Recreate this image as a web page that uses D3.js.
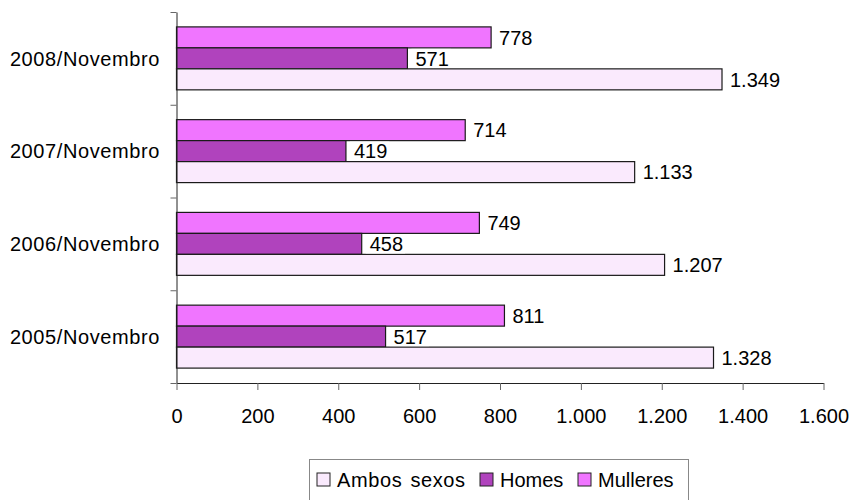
<!DOCTYPE html>
<html>
<head>
<meta charset="utf-8">
<script src="https://cdn.jsdelivr.net/npm/d3@7"></script>
<style>
  body { margin: 0; background: #fff; }
  text { font-family: "Liberation Sans", Arial, sans-serif; fill: #000; }
</style>
</head>
<body>
<div id="chart"></div>
<script>
var categories = ["2005/Novembro", "2006/Novembro", "2007/Novembro", "2008/Novembro"];
var seriesNames = ["Ambos sexos", "Homes", "Mulleres"];
var ambos = [1328, 1207, 1133, 1349];
var homes = [517, 458, 419, 571];
var mulleres = [811, 749, 714, 778];
var xTicks = [0, 200, 400, 600, 800, 1000, 1200, 1400, 1600];

var colors = {"Ambos sexos": "#faeafd", "Homes": "#b043bd", "Mulleres": "#f075ff"};

var width = 854, height = 500;
var plot = {left: 176.5, right: 823.5, top: 12, bottom: 383};

var locale = d3.formatLocale({decimal: ",", thousands: ".", grouping: [3], currency: ["", "€"]});
var fmt = locale.format(",d");

var svg = d3.select("#chart").append("svg")
    .attr("width", width)
    .attr("height", height);

var x = d3.scaleLinear().domain([0, 1600]).range([plot.left, plot.right]);

// 2008 on top
var y = d3.scaleBand()
    .domain(categories.slice().reverse())
    .range([plot.top, plot.bottom])
    .padding(0);

// bars inside a group, top to bottom
var y1 = d3.scaleBand()
    .domain(["Mulleres", "Homes", "Ambos sexos"])
    .range([0, y.bandwidth()])
    .paddingInner(0)
    .paddingOuter(0.71);

var rows = categories.map(function(c, i) {
  return {cat: c, values: [
    {name: "Mulleres", v: mulleres[i]},
    {name: "Homes", v: homes[i]},
    {name: "Ambos sexos", v: ambos[i]}
  ]};
});

var groups = svg.append("g").selectAll("g")
    .data(rows)
    .enter().append("g")
    .attr("transform", function(d) { return "translate(0," + y(d.cat) + ")"; });

groups.selectAll("rect")
    .data(function(d) { return d.values; })
    .enter().append("rect")
    .attr("x", x(0))
    .attr("y", function(d) { return y1(d.name); })
    .attr("width", function(d) { return x(d.v) - x(0); })
    .attr("height", y1.bandwidth())
    .attr("fill", function(d) { return colors[d.name]; })
    .attr("stroke", "#1a1a1a")
    .attr("stroke-width", 1.2);

// value labels on white boxes
groups.selectAll(".lbl")
    .data(function(d) { return d.values; })
    .enter().append("g")
    .attr("class", "lbl")
    .each(function(d) {
      var g = d3.select(this);
      var t = g.append("text")
          .attr("x", x(d.v) + 8)
          .attr("y", y1(d.name) + y1.bandwidth() / 2)
          .attr("dy", "0.36em")
          .style("font-size", "20px")
          .text(fmt(d.v));
      var b = t.node().getBBox();
      g.insert("rect", "text")
          .attr("x", b.x - 4)
          .attr("y", y1(d.name) + 1)
          .attr("width", b.width + 6)
          .attr("height", y1.bandwidth() - 2)
          .attr("fill", "#fff");
    });

// y axis: line with ticks at band edges
var yEdges = d3.scaleLinear().domain([0, 4]).range([plot.bottom, plot.top]);
var yAxis = svg.append("g")
    .attr("transform", "translate(" + plot.left + ",0)")
    .call(d3.axisLeft(yEdges).ticks(4).tickSize(6).tickSizeOuter(0).tickFormat(""));
yAxis.select(".domain").attr("stroke", "#222");
yAxis.selectAll(".tick line").attr("stroke", "#666");

svg.append("g").selectAll("text")
    .data(categories)
    .enter().append("text")
    .attr("x", 160)
    .attr("y", function(d) { return y(d) + y.bandwidth() / 2; })
    .attr("dy", "0.36em")
    .attr("text-anchor", "end")
    .style("font-size", "20px")
    .style("letter-spacing", "0.6px")
    .text(function(d) { return d; });

// x axis
var xAxis = svg.append("g")
    .attr("transform", "translate(0," + plot.bottom + ")")
    .call(d3.axisBottom(x).tickValues(xTicks).tickSize(7).tickSizeOuter(0).tickPadding(19).tickFormat(fmt));
xAxis.select(".domain").attr("stroke", "#222");
xAxis.selectAll(".tick line").attr("stroke", "#666");
xAxis.selectAll("text").style("font-size", "20px").attr("font-family", null);

// legend
var legend = svg.append("g").attr("transform", "translate(309,459)");
legend.append("rect")
    .attr("x", 0.5).attr("y", 0.5)
    .attr("width", 379).attr("height", 50)
    .attr("fill", "#fff")
    .attr("stroke", "#888");

var legendX = [8, 171, 269];
var items = legend.selectAll(".item")
    .data(seriesNames)
    .enter().append("g")
    .attr("class", "item")
    .attr("transform", function(d, i) { return "translate(" + legendX[i] + ",14)"; });
items.append("rect")
    .attr("width", 13).attr("height", 13)
    .attr("fill", function(d) { return colors[d]; })
    .attr("stroke", "#222");
items.append("text")
    .attr("x", 20)
    .attr("y", 6.5)
    .attr("dy", "0.36em")
    .style("font-size", "20px")
    .style("letter-spacing", function(d, i) { return i === 0 ? "0.6px" : null; })
    .style("word-spacing", function(d, i) { return i === 0 ? "2px" : null; })
    .text(function(d) { return d; });
</script>
</body>
</html>
